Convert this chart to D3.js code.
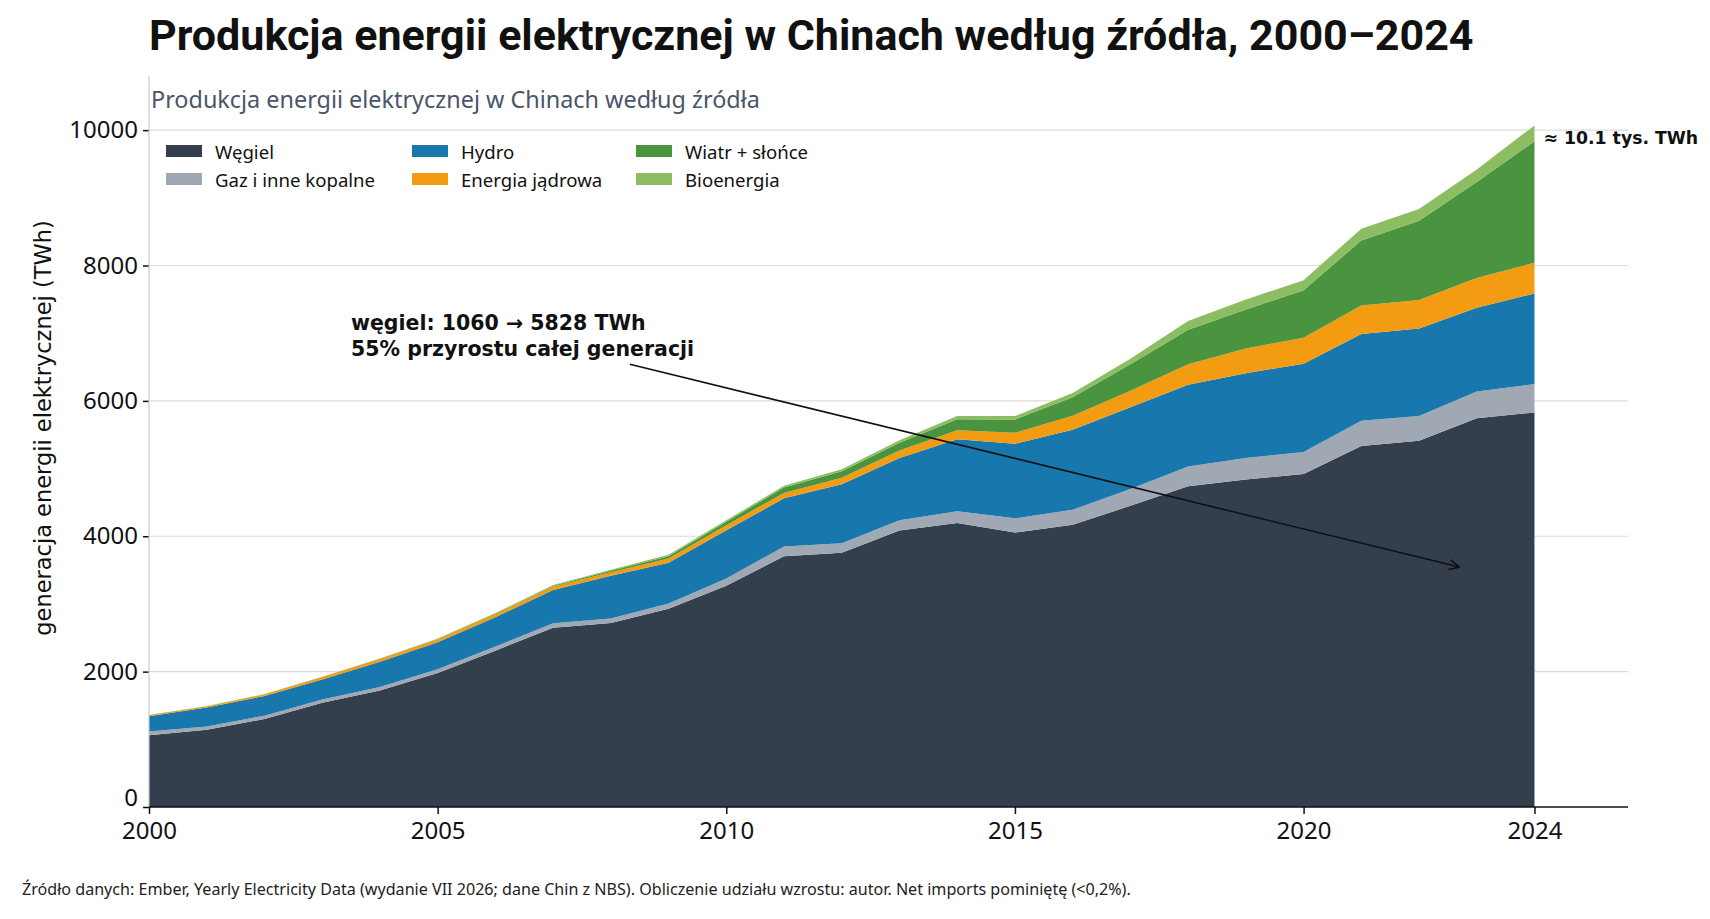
<!DOCTYPE html>
<html lang="pl">
<head>
<meta charset="utf-8">
<title>Produkcja energii elektrycznej w Chinach</title>
<script src="https://cdn.jsdelivr.net/npm/d3@7"></script>
<style>
  body { margin: 0; background: #fff; }
  svg { display: block; }
  .tick text { font-family: "Noto Sans", sans-serif; font-size: 24px; fill: #111; }
</style>
</head>
<body>
<svg id="chart"></svg>
<script>
// --- data (TWh) ---
const years = d3.range(2000, 2025);
const seriesKeys = ["coal", "gas", "hydro", "nuclear", "windSolar", "bio"];
const seriesLabels = ["Węgiel", "Gaz i inne kopalne", "Hydro", "Energia jądrowa", "Wiatr + słońce", "Bioenergia"];
const seriesColors = ["#343f4e", "#a0a8b4", "#1878ae", "#f39c12", "#4a9440", "#8dbd62"];

const coal      = [1060, 1140, 1300, 1540, 1720, 1980, 2310, 2650, 2720, 2930, 3270, 3705, 3755, 4085, 4195, 4055, 4170, 4450, 4740, 4840, 4920, 5335, 5410, 5745, 5828];
const gas       = [55, 50, 50, 50, 52, 55, 60, 65, 65, 75, 105, 145, 140, 150, 175, 210, 220, 250, 290, 315, 325, 370, 365, 395, 420];
const hydro     = [225, 280, 290, 295, 375, 400, 435, 490, 630, 605, 715, 710, 875, 920, 1065, 1100, 1185, 1205, 1210, 1255, 1305, 1285, 1296, 1235, 1340];
const nuclear   = [17, 18, 25, 35, 40, 45, 48, 52, 55, 60, 74, 80, 95, 112, 130, 165, 205, 246, 300, 365, 384, 420, 419, 440, 452];
const windSolar = [1, 1, 1, 2, 2, 3, 5, 10, 20, 35, 50, 80, 95, 115, 165, 195, 275, 390, 510, 575, 700, 960, 1170, 1420, 1795];
const bio       = [2, 2, 3, 4, 5, 6, 8, 12, 15, 20, 22, 25, 30, 35, 45, 50, 60, 80, 130, 148, 150, 172, 175, 185, 235];

const xTicks = [2000, 2005, 2010, 2015, 2020, 2024];
const yTicks = [0, 2000, 4000, 6000, 8000, 10000];

const titleText = "Produkcja energii elektrycznej w Chinach według źródła, 2000–2024";
const subtitleText = "Produkcja energii elektrycznej w Chinach według źródła";
const yLabelText = "generacja energii elektrycznej (TWh)";
const noteLines = ["węgiel: 1060 → 5828 TWh", "55% przyrostu całej generacji"];
const totalLabel = "≈ 10.1 tys. TWh";
const sourceText = "Źródło danych: Ember, Yearly Electricity Data (wydanie VII 2026; dane Chin z NBS). Obliczenie udziału wzrostu: autor. Net imports pominiętę (<0,2%).";

// annotation arrow in data units
const arrowFrom = { year: 2008.33, value: 6540 };
const arrowTo = { year: 2022.7, value: 3545 };

// table for d3.stack
const table = years.map((yr, i) => ({
  year: yr, coal: coal[i], gas: gas[i], hydro: hydro[i],
  nuclear: nuclear[i], windSolar: windSolar[i], bio: bio[i]
}));

// --- layout ---
const width = 1710, height = 919;
const plot = { left: 149, right: 1628, top: 76, bottom: 807 };

const svg = d3.select("#chart")
  .attr("width", width)
  .attr("height", height);

svg.append("rect").attr("width", width).attr("height", height).attr("fill", "#fff");

const x = d3.scaleLinear().domain([2000, 2025.62]).range([plot.left, plot.right]);
const y = d3.scaleLinear().domain([0, 10800]).range([plot.bottom, plot.top]);

// gridlines
svg.append("g")
  .selectAll("line")
  .data(yTicks.filter(d => d > 0))
  .join("line")
  .attr("x1", plot.left).attr("x2", plot.right)
  .attr("y1", d => y(d)).attr("y2", d => y(d))
  .attr("stroke", "#dcdcdc")
  .attr("stroke-width", 1.2);

// stacked areas
const stacked = d3.stack().keys(seriesKeys)(table);
const area = d3.area()
  .x(d => x(d.data.year))
  .y0(d => y(d[0]))
  .y1(d => y(d[1]));

svg.append("g")
  .selectAll("path")
  .data(stacked)
  .join("path")
  .attr("d", area)
  .attr("fill", (d, i) => seriesColors[i]);

// axes
const yAxis = svg.append("g")
  .attr("transform", `translate(${plot.left},0)`)
  .call(d3.axisLeft(y).tickValues(yTicks).tickSize(6).tickPadding(5).tickFormat(d3.format("d")));
yAxis.select(".domain").remove();
yAxis.selectAll(".tick line").attr("stroke", "#111").attr("stroke-width", 1.5);
// lift the "0" label a little so it clears the first year label
yAxis.selectAll(".tick text").filter(d => d === 0).attr("dy", "-0.05em");

svg.append("line")
  .attr("x1", plot.left).attr("x2", plot.left)
  .attr("y1", plot.top).attr("y2", plot.bottom)
  .attr("stroke", "#c8c8c8").attr("stroke-width", 1.2);

const xAxis = svg.append("g")
  .attr("transform", `translate(0,${plot.bottom})`)
  .call(d3.axisBottom(x).tickValues(xTicks).tickSize(7).tickPadding(8).tickFormat(d3.format("d")));
xAxis.select(".domain").attr("stroke", "#111").attr("stroke-width", 1.5)
  .attr("d", `M${plot.left},0H${plot.right}`);
xAxis.selectAll(".tick line").attr("stroke", "#111").attr("stroke-width", 1.5);

// y label
svg.append("text")
  .attr("transform", `translate(44,428) rotate(-90)`)
  .attr("text-anchor", "middle")
  .attr("dominant-baseline", "middle")
  .style("font-family", "DejaVu Sans, sans-serif")
  .style("font-size", "22.5px")
  .attr("fill", "#111")
  .text(yLabelText);

// title & subtitle
svg.append("text")
  .attr("x", 149).attr("y", 50)
  .style("font-family", "Roboto, sans-serif")
  .style("font-weight", "700")
  .style("font-size", "43px")
  .attr("fill", "#111")
  .text(titleText);

svg.append("text")
  .attr("x", 151).attr("y", 108)
  .style("font-family", "Noto Sans, sans-serif")
  .style("font-size", "23.4px")
  .attr("fill", "#4a5568")
  .text(subtitleText);

// legend: 3 columns, 2 rows
const legendCols = [166, 412, 636];
const legendRows = [151, 179];
const legend = svg.append("g")
  .selectAll("g")
  .data(seriesLabels)
  .join("g")
  .attr("transform", (d, i) => `translate(${legendCols[Math.floor(i / 2)]},${legendRows[i % 2]})`);

legend.append("rect")
  .attr("x", 0).attr("y", -6)
  .attr("width", 36).attr("height", 12)
  .attr("fill", (d, i) => seriesColors[i]);

legend.append("text")
  .attr("x", 49).attr("y", 0)
  .attr("dominant-baseline", "central")
  .style("font-family", "Noto Sans, sans-serif")
  .style("font-size", "18.6px")
  .attr("fill", "#111")
  .text(d => d);

// total label at 2024
svg.append("text")
  .attr("x", x(2024) + 9).attr("y", 139)
  .attr("dominant-baseline", "middle")
  .style("font-family", "DejaVu Sans, sans-serif")
  .style("font-weight", "700")
  .style("font-size", "17.3px")
  .attr("fill", "#111")
  .text(totalLabel);

// annotation
svg.append("defs").append("marker")
  .attr("id", "arrowhead")
  .attr("viewBox", "0 0 12 12")
  .attr("refX", 11).attr("refY", 6)
  .attr("markerWidth", 12).attr("markerHeight", 12)
  .attr("markerUnits", "userSpaceOnUse")
  .attr("orient", "auto")
  .append("path")
  .attr("d", "M1,1 L11,6 L1,11")
  .attr("fill", "none")
  .attr("stroke", "#111")
  .attr("stroke-width", 1.6);

svg.append("line")
  .attr("x1", x(arrowFrom.year)).attr("y1", y(arrowFrom.value))
  .attr("x2", x(arrowTo.year)).attr("y2", y(arrowTo.value))
  .attr("stroke", "#111")
  .attr("stroke-width", 1.6)
  .attr("marker-end", "url(#arrowhead)");

svg.append("text")
  .style("font-family", "DejaVu Sans, sans-serif")
  .style("font-weight", "700")
  .style("font-size", "20.5px")
  .attr("fill", "#111")
  .selectAll("tspan")
  .data(noteLines)
  .join("tspan")
  .attr("x", 351)
  .attr("y", (d, i) => 330 + i * 26)
  .text(d => d);

// source footer
svg.append("text")
  .attr("x", 22).attr("y", 895)
  .style("font-family", "Noto Sans, sans-serif")
  .style("font-size", "16.1px")
  .attr("fill", "#222")
  .text(sourceText);
</script>
</body>
</html>
